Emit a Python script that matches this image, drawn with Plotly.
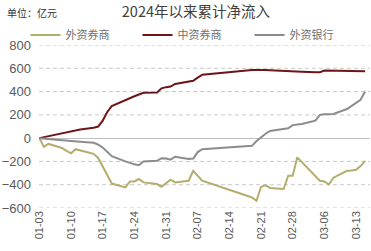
import plotly.graph_objects as go

dates = ["2024-01-03","2024-01-04","2024-01-05","2024-01-08","2024-01-09","2024-01-10","2024-01-11","2024-01-12",
         "2024-01-15","2024-01-16","2024-01-17","2024-01-18","2024-01-19","2024-01-22","2024-01-23","2024-01-24",
         "2024-01-25","2024-01-26","2024-01-29","2024-01-30","2024-01-31","2024-02-01","2024-02-02","2024-02-05",
         "2024-02-06","2024-02-07","2024-02-08","2024-02-19","2024-02-20","2024-02-21","2024-02-22","2024-02-23",
         "2024-02-26","2024-02-27","2024-02-28","2024-02-29","2024-03-01","2024-03-04","2024-03-05","2024-03-06",
         "2024-03-07","2024-03-08","2024-03-11","2024-03-12","2024-03-13","2024-03-14","2024-03-15"]

foreign_brokers = [0,-75,-50,-85,-110,-130,-95,-105,-135,-170,-240,-310,-390,-423,-372,-372,
                   -351,-380,-394,-417,-385,-357,-380,-366,-280,-320,-365,-510,-538,-418,-405,-428,
                   -437,-323,-323,-165,-205,-330,-366,-372,-398,-340,-280,-278,-272,-240,-195]
chinese_brokers = [0,8,15,38,48,56,62,75,90,100,150,225,275,330,345,360,
                   375,390,392,428,438,443,465,485,492,520,545,585,587,588,585,583,
                   580,578,575,575,570,566,566,580,580,578,577,577,576,576,575]
foreign_banks = [0,-3,-5,-12,-15,-22,-25,-30,-40,-55,-80,-120,-155,-200,-215,-225,
                 -232,-200,-195,-172,-175,-185,-160,-178,-175,-120,-95,-66,-25,10,38,62,
                 78,85,112,118,122,150,200,205,205,208,250,275,300,330,400]

series_names = ["外资券商", "中资券商", "外资银行"]
colors = ["#B5AD6E", "#6E1518", "#8C8C8C"]
yticks = [800, 600, 400, 200, 0, -200, -400, -600]

legend_ids = ["legend", "legend2", "legend3"]
fig = go.Figure()
for name, vals, c, lg in zip(series_names, [foreign_brokers, chinese_brokers, foreign_banks], colors, legend_ids):
    fig.add_trace(go.Scatter(x=dates, y=vals, name=name, mode="lines", showlegend=True,
                             line=dict(color=c, width=2), legend=lg))

# dashed horizontal gridlines at the tick values (zero line stays solid)
for v in yticks:
    if v != 0:
        fig.add_hline(y=v, line=dict(color="#C8C8C8", width=1, dash="4px,3px"), layer="below")

font_num = "Liberation Sans, Arial, Noto Sans CJK SC"
legend_font = dict(family="Noto Sans CJK SC", size=11, color="#707070")
def legend_at(px):
    return dict(orientation="h", x=(px-39)/331, xanchor="left", y=(208-35)/163, yanchor="middle",
                font=legend_font, bgcolor="rgba(0,0,0,0)", itemwidth=30, visible=True)

fig.update_layout(
    width=371, height=251, showlegend=True,
    margin=dict(l=39, r=1, t=45, b=43, autoexpand=False),
    paper_bgcolor="white", plot_bgcolor="white",
    title=dict(text="2024年以来累计净流入", x=0.528, xref="container", xanchor="center",
               y=0.952, yanchor="middle",
               font=dict(family="Noto Sans CJK SC", size=14.5, color="#404040")),
    legend=legend_at(25.5),
    legend2=legend_at(137.5),
    legend3=legend_at(249.5),
    xaxis=dict(type="date", range=["2024-01-02 22:00", "2024-03-16 02:00"],
               tick0="2024-01-03", dtick=7*86400000, tickformat="%m-%d", tickangle=-90,
               showgrid=False, zeroline=False, showline=False, ticks="",
               tickfont=dict(family=font_num, size=11, color="#595959")),
    yaxis=dict(range=[-600, 800], tickvals=yticks, showgrid=False,
               zeroline=True, zerolinecolor="#BFBFBF",
               zerolinewidth=1, ticks="", ticklabelstandoff=7,
               tickfont=dict(family=font_num, size=13, color="#595959")),
    annotations=[dict(text="单位：亿元", xref="paper", yref="paper", x=-34/331, y=(208-12)/163,
                      xanchor="left", yanchor="middle", showarrow=False,
                      font=dict(family="Noto Sans CJK SC", size=10, color="#333333"))],
)

fig.write_html("out.html")
